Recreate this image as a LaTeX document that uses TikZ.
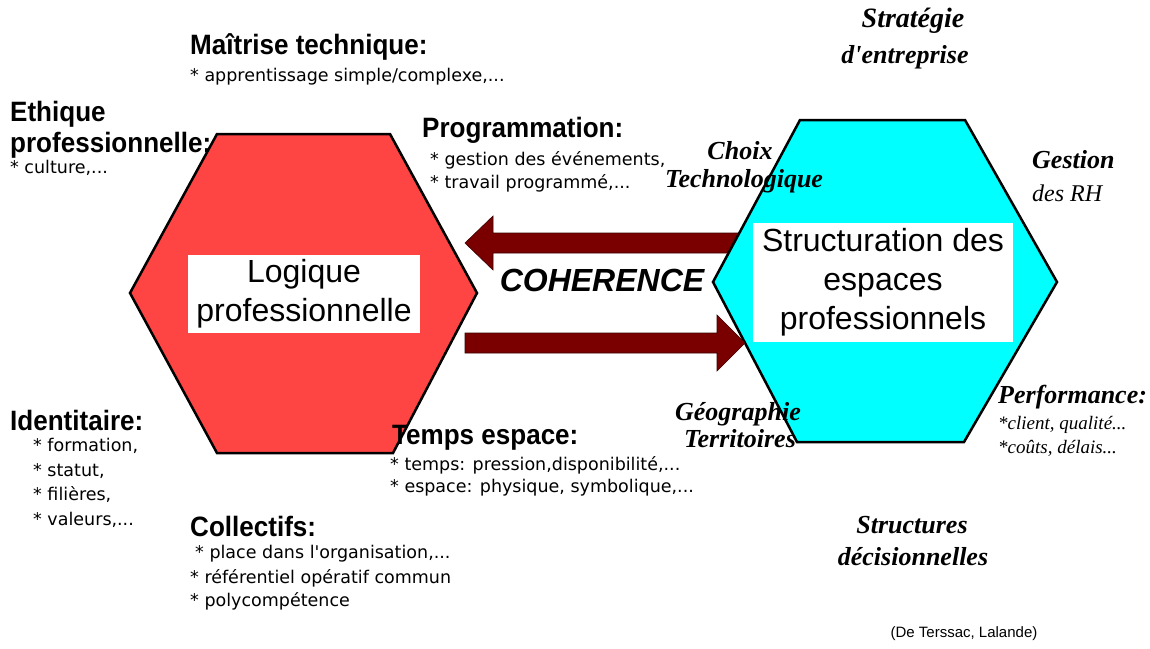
\documentclass[tikz,border=0pt]{standalone}
\usepackage{fontspec}
\setmainfont{Liberation Serif}
\newfontfamily\serfont{Liberation Serif}
\newfontfamily\hdfont[FakeStretch=0.93]{Liberation Sans}
\newfontfamily\itemfont{DejaVu Sans}
\newfontfamily\boxfont{Liberation Sans}
\definecolor{hexred}{RGB}{255,68,68}
\definecolor{hexcyan}{RGB}{0,255,255}
\definecolor{arrowred}{RGB}{122,0,0}
\begin{document}
\begin{tikzpicture}[x=1pt,y=-1pt,
  hd/.style={anchor=west,inner sep=0pt,font=\hdfont\bfseries\fontsize{28}{28}\selectfont},
  it/.style={anchor=west,inner sep=0pt,font=\itemfont\fontsize{17.5}{18}\selectfont},
  sh/.style={inner sep=0pt,font=\serfont\bfseries\itshape\fontsize{26}{26}\selectfont},
  si/.style={anchor=west,inner sep=0pt,font=\serfont\itshape\fontsize{19}{19}\selectfont},
  hexa/.style={draw=black,line width=2.5pt,line join=miter},
  bigarrow/.style={fill=arrowred,draw=black!50!arrowred,line width=0.6pt},
  wbox/.style={fill=white,inner sep=0pt,align=center,font=\boxfont\fontsize{32}{39}\selectfont}
]
\useasboundingbox (0,0) rectangle (1150,648);
\fill[white] (0,0) rectangle (1150,648);

% upper arrow (behind the cyan hexagon)
\coordinate (a1tip) at (465,243);
\coordinate (a1tail) at (745,243);
\fill[bigarrow] (a1tip) -- ++(28,-27) -- ++(0,17) -- (a1tail |- 0,233) -- (a1tail |- 0,253) -- (493,253) -- (493,270) -- cycle;

% hexagons
\draw[hexa,fill=hexcyan] (800,120) -- (965,120) -- (1057,282) -- (964,442) -- (797,442) -- (713,282) -- cycle;
\draw[hexa,fill=hexred] (217,134) -- (390,134) -- (477,293) -- (393,453) -- (217,453) -- (130,293) -- cycle;

% lower arrow (in front)
\coordinate (a2tail) at (465,343);
\coordinate (a2tip) at (745,343);
\fill[bigarrow] (a2tail |- 0,333) -- (717,333) -- (717,315) -- (a2tip) -- (717,371) -- (717,353) -- (a2tail |- 0,353) -- cycle;

% boxes
\node[wbox,minimum width=232pt,minimum height=78pt] (lp) at (304,294) {Logique\\professionnelle};
\node[wbox,minimum width=260pt,minimum height=119pt] (sep) at (883,282.5) {Structuration des\\espaces\\professionnels};
\node[inner sep=0pt,font=\boxfont\bfseries\itshape\fontsize{32}{32}\selectfont] (coh) at (602,280) {COHERENCE};

% left-side texts
\node[hd] (mt) at (190,47) {Maîtrise technique:};
\node[it] (mt1) at (190,77) {* apprentissage simple/complexe,...};
\node[hd] (eth1) at (10,114) {Ethique};
\node[hd] (eth2) at (10,145) {professionnelle:};
\node[it] (eth3) at (10,168) {* culture,...};
\node[hd] (prog) at (422,130) {Programmation:};
\node[it] (prog1) at (430,160) {* gestion des événements,};
\node[it] (prog2) at (430,183) {* travail programmé,...};
\node[hd] (id) at (10,420) {Identitaire:};
\node[it] (id1) at (33,446) {* formation,};
\node[it] (id2) at (33,471) {* statut,};
\node[it] (id3) at (33,495) {* filières,};
\node[it] (id4) at (33,520) {* valeurs,...};
\node[hd] (col) at (190,526) {Collectifs:};
\node[it] (col1) at (195,554) {* place dans l'organisation,...};
\node[it] (col2) at (190,578) {* référentiel opératif commun};
\node[it] (col3) at (190,601) {* polycompétence};
\node[hd] (te) at (392,438) {Temps espace:};
\node[it] (te1) at (390,465) {* temps: pression,disponibilité,...};
\node[it] (te2) at (390,488) {* espace: physique, symbolique,...};

% right-side texts
\node[sh] (ch1) at (740,151) {Choix};
\node[sh] (ch2) at (744,181) {Technologique};
\node[sh,font=\serfont\bfseries\itshape\fontsize{28}{28}\selectfont] (st1) at (913,21) {Stratégie};
\node[sh] (st2) at (905,57) {d'entreprise};
\node[sh,anchor=west] (ge1) at (1032,160) {Gestion};
\node[anchor=west,inner sep=0pt,font=\serfont\itshape\fontsize{24}{24}\selectfont] (ge2) at (1032,193) {des RH};
\node[sh] (geo1) at (738,414) {Géographie};
\node[sh] (geo2) at (740,439) {Territoires};
\node[sh,anchor=west] (pf) at (998,397) {Performance:};
\node[si] (pf1) at (998,425) {*client, qualité...};
\node[si] (pf2) at (998,448) {*coûts, délais...};
\node[sh] (sd1) at (912,525) {Structures};
\node[sh] (sd2) at (913,557) {décisionnelles};
\node[inner sep=0pt,font=\boxfont\fontsize{15}{15}\selectfont] (ref) at (964,634) {(De Terssac, Lalande)};
\end{tikzpicture}
\end{document}
